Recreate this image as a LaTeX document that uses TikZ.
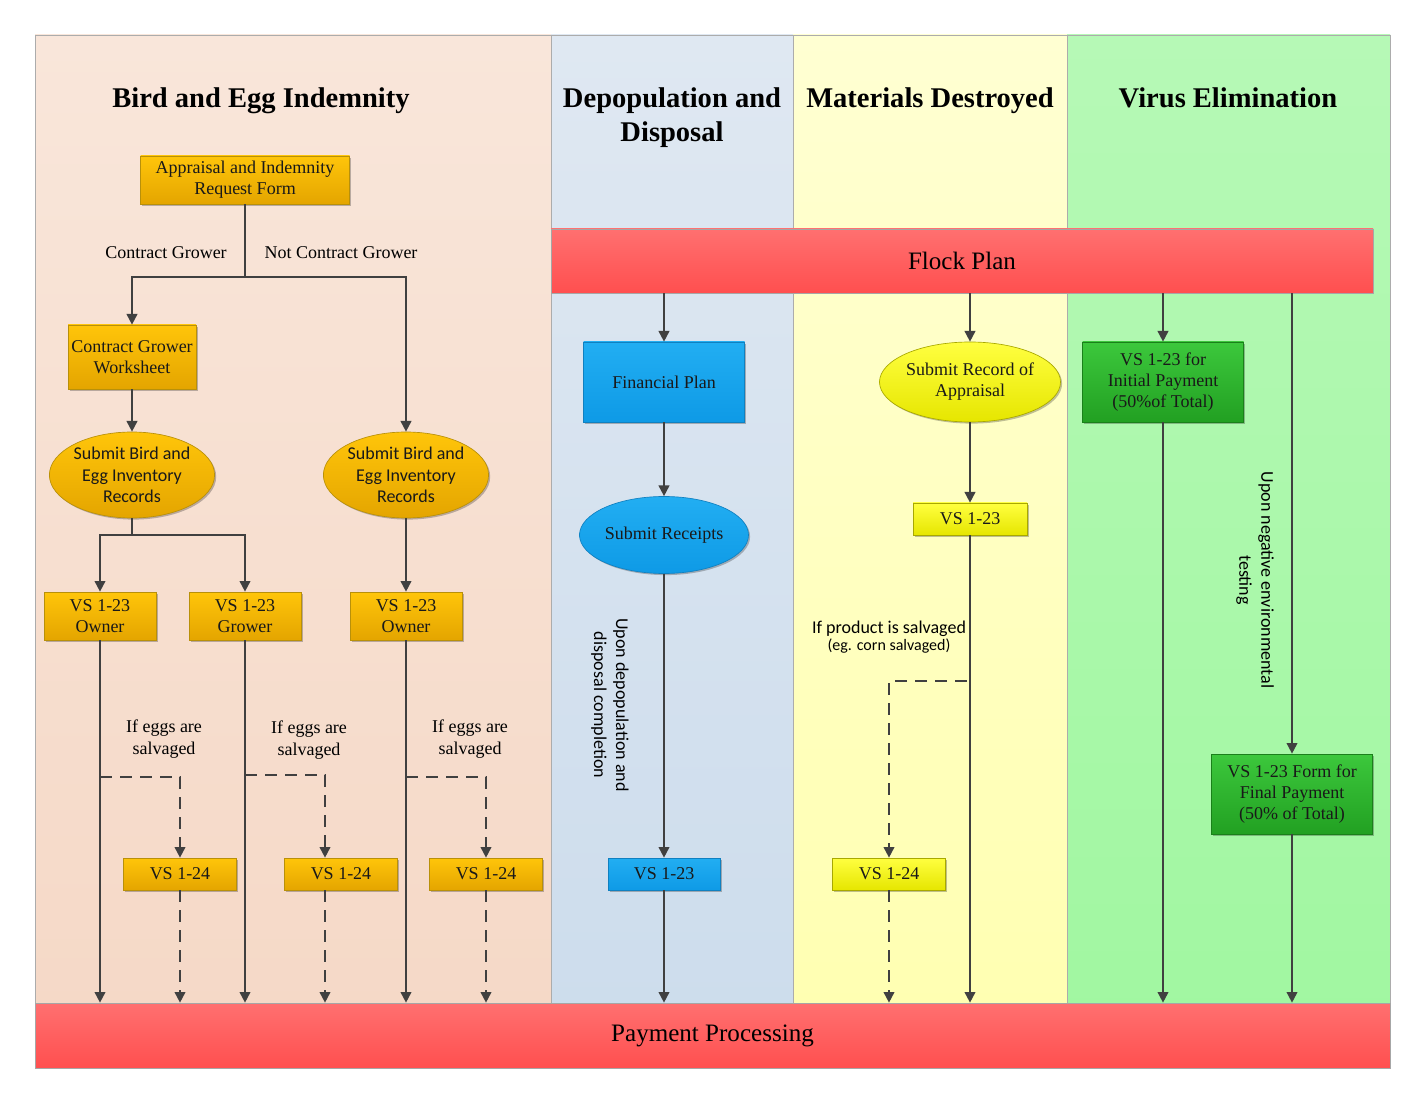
\documentclass[tikz,border=0pt]{standalone}
\usepackage{fontspec}
\setmainfont{Liberation Serif}
\newfontfamily\carl{Carlito}
\usetikzlibrary{arrows.meta,shapes.geometric,shadows}
\definecolor{lc}{HTML}{404040}
\definecolor{laneA1}{HTML}{F9E6DA}\definecolor{laneA2}{HTML}{F5D8C6}
\definecolor{laneB1}{HTML}{DFE8F2}\definecolor{laneB2}{HTML}{CCDCEC}
\definecolor{laneC1}{HTML}{FFFFD2}\definecolor{laneC2}{HTML}{FFFFB0}
\definecolor{laneD1}{HTML}{B6F9B6}\definecolor{laneD2}{HTML}{A0F7A0}
\definecolor{red1}{HTML}{FF7070}\definecolor{red2}{HTML}{FF4F4F}
\definecolor{or1}{HTML}{FFC50A}\definecolor{or2}{HTML}{E4A500}\definecolor{orb}{HTML}{B8900A}
\definecolor{bl1}{HTML}{22AEF2}\definecolor{bl2}{HTML}{0E9AE6}\definecolor{blb}{HTML}{1080C0}
\definecolor{ye1}{HTML}{FFFF40}\definecolor{ye2}{HTML}{E6E600}\definecolor{yeb}{HTML}{A8A800}
\definecolor{gr1}{HTML}{3CC83C}\definecolor{gr2}{HTML}{22A022}\definecolor{grb}{HTML}{1A801A}
\begin{document}
\begin{tikzpicture}[x=0.75pt,y=-0.75pt,
  lanebg/.style={draw=gray!65, line width=0.6pt},
  ln/.style={draw=lc, line width=1.3pt},
  arr/.style={ln, -{Triangle[length=8pt,width=8pt]}},
  dsh/.style={dash pattern=on 9pt off 6pt},
  shad/.style={drop shadow={shadow xshift=1.2pt, shadow yshift=-1.2pt, opacity=0.25, fill=black}},
  basebox/.style={inner sep=0pt, align=center, text=black!90, line width=0.5pt, shad},
  bodyfont/.style={font=\fontsize{13.5}{15.75}\selectfont},
  obox/.style={basebox, rectangle, draw=orb, top color=or1, bottom color=or2, bodyfont},
  oell/.style={basebox, ellipse, draw=orb, top color=or1, bottom color=or2, font=\carl\fontsize{13.5}{16.1}\selectfont},
  bbox/.style={basebox, rectangle, draw=blb, top color=bl1, bottom color=bl2, bodyfont},
  yebox/.style={basebox, rectangle, draw=yeb, top color=ye1, bottom color=ye2, bodyfont},
  gbox/.style={basebox, rectangle, draw=grb, top color=gr1, bottom color=gr2, bodyfont},
  bar/.style={rectangle, inner sep=0pt, draw=gray!70, line width=0.5pt, top color=red1, bottom color=red2, font=\fontsize{18.8}{22}\selectfont},
  ttl/.style={align=center, font=\bfseries\fontsize{21.4}{25.5}\selectfont},
  lbl/.style={align=center, font=\fontsize{13.5}{16.2}\selectfont},
  clbl/.style={align=center, font=\carl\fontsize{13.5}{16.5}\selectfont}
]
\useasboundingbox (0,0) rectangle (1410,1094);
\fill[white] (0,0) rectangle (1410,1094);
% lanes
\shade[top color=laneA1, bottom color=laneA2] (35,35) rectangle (551,1068);
\shade[top color=laneB1, bottom color=laneB2] (551,35) rectangle (793,1068);
\shade[top color=laneC1, bottom color=laneC2] (793,35) rectangle (1067,1068);
\shade[top color=laneD1, bottom color=laneD2] (1067,35) rectangle (1390,1068);
\draw[lanebg] (35,35) rectangle (1390,1068);
\draw[lanebg] (551,35) -- (551,1068);
\draw[lanebg] (793,35) -- (793,1068);
\draw[lanebg] (1067,35) -- (1067,1068);
% titles
\node[ttl, anchor=base] (t1) at (261,108) {Bird and Egg Indemnity};
\node[ttl] (t2) at (672,118) {Depopulation and\\Disposal};
\node[ttl, anchor=base] (t3) at (930,108) {Materials Destroyed};
\node[ttl, anchor=base] (t4) at (1228,108) {Virus Elimination};
% bars
\node[bar, minimum width=616.5pt, minimum height=48pt] (flock) at (962,261) {Flock Plan};
\node[bar, minimum width=1016.25pt, minimum height=48.75pt] (pay) at (712.5,1035.5) {Payment Processing};
% lane 1
\node[obox, minimum width=156.75pt, minimum height=36pt] (app) at (245,180) {Appraisal and Indemnity\\Request Form};
\node[obox, minimum width=96pt, minimum height=48pt] (cgw) at (132,357) {Contract Grower\\Worksheet};
\node[oell, minimum width=122.25pt, minimum height=64.5pt] (ell1) at (132,475) {Submit Bird and\\Egg Inventory\\Records};
\node[oell, minimum width=121.5pt, minimum height=64.5pt] (ell2) at (406,475) {Submit Bird and\\Egg Inventory\\Records};
\node[obox, minimum width=84pt, minimum height=36pt] (o1) at (100,616) {VS 1-23\\Owner};
\node[obox, minimum width=84pt, minimum height=36pt] (g1) at (245,616) {VS 1-23\\Grower};
\node[obox, minimum width=84pt, minimum height=36pt] (o2) at (406,616) {VS 1-23\\Owner};
\node[obox, minimum width=84.75pt, minimum height=24pt] (e1) at (180,874) {VS 1-24};
\node[obox, minimum width=84.75pt, minimum height=24pt] (e2) at (341,874) {VS 1-24};
\node[obox, minimum width=84.75pt, minimum height=24pt] (e3) at (486,874) {VS 1-24};
\node[lbl] (lcg) at (166,253) {Contract Grower};
\node[lbl] (lncg) at (341,253) {Not Contract Grower};
\node[lbl] (s1) at (164,739) {If eggs are\\salvaged};
\node[lbl] (s2) at (309,740) {If eggs are\\salvaged};
\node[lbl] (s3) at (470,739) {If eggs are\\salvaged};
\coordinate (j1) at (245,277);
\draw[ln] (app) -- (j1);
\draw[arr] (j1) -| (cgw);
\draw[arr] (j1) -| (ell2);
\draw[arr] (cgw) -- (ell1);
\coordinate (j2) at (132,535);
\draw[ln] (ell1) -- (j2);
\draw[arr] (j2) -| (o1);
\draw[arr] (j2) -| (g1);
\draw[arr] (ell2) -- (o2);
\draw[arr] (o1) -- (o1 |- pay.north);
\draw[arr] (g1) -- (g1 |- pay.north);
\draw[arr] (o2) -- (o2 |- pay.north);
\coordinate (d1) at (100,777);
\coordinate (d2) at (245,775);
\coordinate (d3) at (406,777);
\draw[arr,dsh] (d1) -| (e1);
\draw[arr,dsh] (d2) -| ([xshift=-12pt]e2.north);
\draw[arr,dsh] (d3) -| (e3);
\draw[arr,dsh] (e1) -- (e1 |- pay.north);
\draw[arr,dsh] ([xshift=-12pt]e2.south) -- ([xshift=-12pt]e2.south |- pay.north);
\draw[arr,dsh] (e3) -- (e3 |- pay.north);
% lane 2
\node[bbox, minimum width=120.75pt, minimum height=60pt] (fin) at (664,382) {Financial Plan};
\node[basebox, ellipse, draw=blb, top color=bl1, bottom color=bl2, bodyfont, minimum width=126.75pt, minimum height=57.75pt] (rec) at (664,535) {Submit Receipts};
\node[bbox, minimum width=84pt, minimum height=24pt] (v2) at (664,874) {VS 1-23};
\node[clbl, rotate=-90] (u1) at (610,705) {Upon depopulation and\\disposal completion};
\draw[arr] (flock.south -| fin) -- (fin);
\draw[arr] (fin) -- (rec);
\draw[arr] (rec) -- (v2);
\draw[arr] (v2) -- (v2 |- pay.north);
% lane 3
\node[basebox, ellipse, draw=yeb, top color=ye1, bottom color=ye2, bodyfont, minimum width=133.5pt, minimum height=60pt] (sra) at (970,382) {Submit Record of\\Appraisal};
\node[yebox, minimum width=85.5pt, minimum height=24pt] (v3) at (970,519) {VS 1-23};
\node[yebox, minimum width=84.75pt, minimum height=24pt] (v4) at (889,874) {VS 1-24};
\node[align=center, font=\carl] (ps) at (889,637) {{\fontsize{13.5}{15}\selectfont If product is salvaged}\\[1pt]{\fontsize{12}{14}\selectfont (eg. corn salvaged)}};
\draw[arr] (flock.south -| sra) -- (sra);
\draw[arr] (sra) -- (v3);
\draw[arr] (v3) -- (v3 |- pay.north);
\coordinate (d4) at (967,681);
\draw[arr,dsh] (d4) -| (v4);
\draw[arr,dsh] (v4) -- (v4 |- pay.north);
% lane 4
\node[gbox, minimum width=120.75pt, minimum height=60pt] (gi) at (1163,382) {VS 1-23 for\\Initial Payment\\(50\%of Total)};
\node[gbox, minimum width=120.75pt, minimum height=60pt] (gf) at (1292,794) {VS 1-23 Form for\\Final Payment\\(50\% of Total)};
\node[clbl, rotate=-90] (u2) at (1255,580) {Upon negative environmental\\testing};
\draw[arr] (flock.south -| gi) -- (gi);
\draw[arr] (gi) -- (gi |- pay.north);
\draw[arr] (flock.south -| gf) -- (gf);
\draw[arr] (gf) -- (gf |- pay.north);
\end{tikzpicture}
\end{document}
